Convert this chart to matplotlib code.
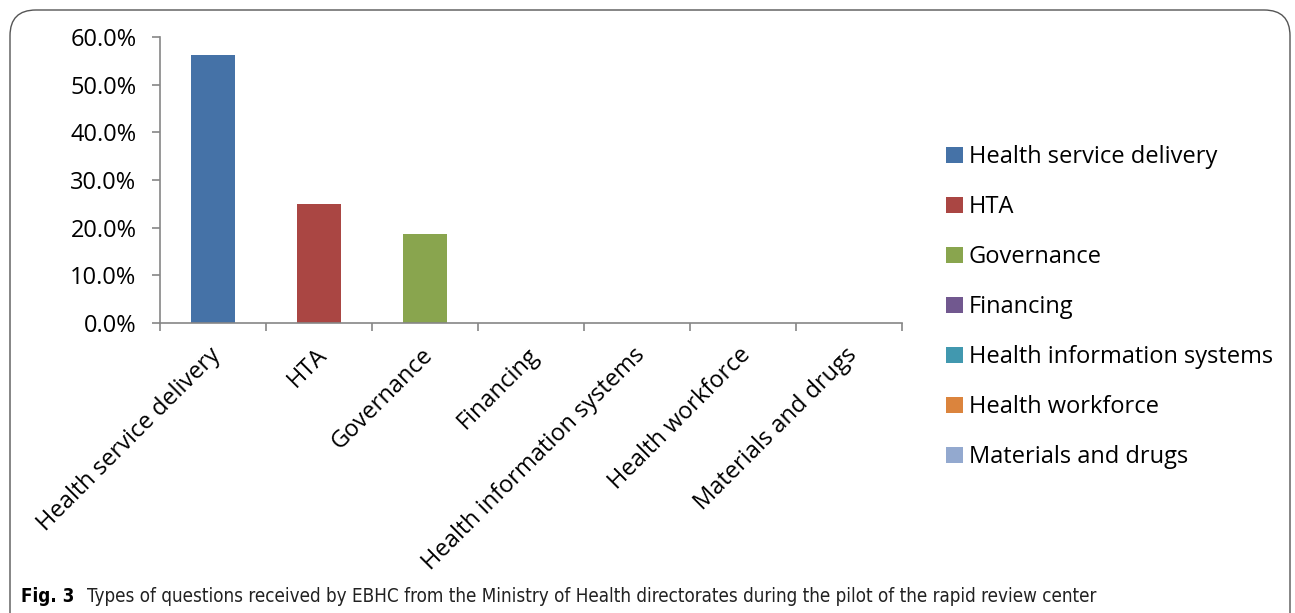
import numpy as np
import matplotlib.pyplot as plt
from matplotlib.patches import FancyBboxPatch, Patch
from matplotlib.ticker import FuncFormatter

categories = ['Health service delivery', 'HTA', 'Governance', 'Financing',
              'Health information systems', 'Health workforce', 'Materials and drugs']
shares = [56.25, 25.0, 18.75, 0.0, 0.0, 0.0, 0.0]
colors = ['#4572a7', '#aa4643', '#89a54e', '#71588f', '#4198af', '#db843d', '#93a9cf']
yticks = [0, 10, 20, 30, 40, 50, 60]

font = ['Open Sans', 'DejaVu Sans']
plt.rcParams['font.family'] = font
fs = 17

fig = plt.figure(figsize=(12.95, 6.13), dpi=100)

# rounded frame round the figure panel, open at the bottom
frame = FancyBboxPatch((10 / 1295, -0.2), 1280 / 1295, 1.2 - 10 / 613,
                       boxstyle='round,pad=0,rounding_size=0.02',
                       transform=fig.transFigure, fill=False,
                       edgecolor='#555555', linewidth=1.0, mutation_aspect=2.1)
fig.patches.append(frame)

ax = fig.add_axes([160 / 1295, 290 / 613, 742 / 1295, 286 / 613])
x = np.arange(len(categories))
ax.bar(x, shares, width=0.41, color=colors)

ax.set_xlim(-0.5, len(categories) - 0.5)
ax.set_ylim(0, 60)
ax.set_yticks(yticks)
ax.yaxis.set_major_formatter(FuncFormatter(lambda v, p: f'{v:.1f}%'))
ax.set_xticks(np.arange(len(categories) + 1) - 0.5)
ax.set_xticklabels([])
for i, c in enumerate(categories):
    ax.text(i - 0.04, -4.2, c, rotation=45, ha='right', va='top',
            rotation_mode='anchor', fontsize=fs, color='black')

for s in ['top', 'right']:
    ax.spines[s].set_visible(False)
for s in ['left', 'bottom']:
    ax.spines[s].set_color('#868686')
    ax.spines[s].set_linewidth(1.2)
ax.tick_params(axis='both', color='#868686', length=6, width=1.2, labelsize=fs)
ax.tick_params(axis='y', pad=11)

handles = [Patch(facecolor=c, label=n) for c, n in zip(colors, categories)]
fig.legend(handles=handles, loc='upper left', bbox_to_anchor=(937 / 1295, 1 - 136 / 613),
           frameon=False, fontsize=fs, handlelength=0.7, handleheight=0.7,
           handletextpad=0.25, labelspacing=1.1, borderaxespad=0)

cap_font = ['DejaVu Sans']
fig.text(21 / 1295, 1 - 597 / 613, 'Fig. 3', fontsize=13.5, fontweight='bold',
         va='center', family=cap_font, fontstretch='condensed')
fig.text(87 / 1295, 1 - 597 / 613,
         'Types of questions received by EBHC from the Ministry of Health directorates during the pilot of the rapid review center',
         fontsize=13.5, va='center', color='#222222', family=cap_font, fontstretch='condensed')

fig.savefig('out.png', dpi=100)
